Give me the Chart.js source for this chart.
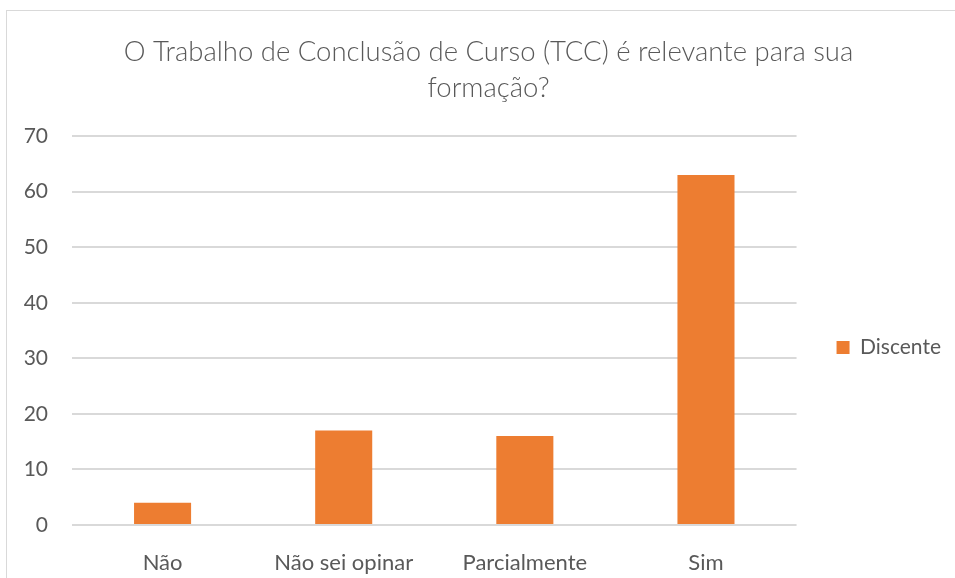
<!DOCTYPE html>
<html>
<head>
<meta charset="utf-8">
<script src="https://cdn.jsdelivr.net/npm/chart.js@4.4.0/dist/chart.umd.min.js"></script>
<style>
  html, body { margin: 0; padding: 0; background: #fff; }
  #wrap { position: relative; width: 955px; height: 578px; overflow: hidden; }
  #frame { position: absolute; left: 6px; top: 10px; width: 960px; height: 600px; border: 1px solid #d9d9d9; }
  #tccChart { position: absolute; left: 0; top: 0; }
</style>
</head>
<body>
<div id="wrap">
  <div id="frame"></div>
  <canvas id="tccChart" width="955" height="578"></canvas>
</div>
<script>
  const categories = ['Não', 'Não sei opinar', 'Parcialmente', 'Sim'];
  const discente = [4, 17, 16, 63];
  const yTicks = [0, 10, 20, 30, 40, 50, 60, 70];

  const textColor = '#595959';
  const fontFamily = 'Lato, "Open Sans", sans-serif';

  // nudge legend and title over to where Excel puts them
  const boxShift = {
    id: 'boxShift',
    afterLayout(chart) {
      const lg = chart.legend;
      lg.left += 32; lg.right += 32;
      lg.top += 17; lg.bottom += 17;
      const tb = chart.titleBlock;
      tb.left += 29; tb.right += 29;
    }
  };

  const ctx = document.getElementById('tccChart');
  new Chart(ctx, {
    type: 'bar',
    data: {
      labels: categories,
      datasets: [{
        label: 'Discente',
        data: discente,
        backgroundColor: '#ED7D31',
        barPercentage: 0.315,
        categoryPercentage: 1
      }]
    },
    options: {
      responsive: false,
      animation: false,
      layout: { padding: { right: 36 } },
      plugins: {
        title: {
          display: true,
          text: ['O Trabalho de Conclusão de Curso (TCC) é relevante para sua', 'formação?'],
          color: textColor,
          font: { family: fontFamily, size: 27.5, weight: 300, lineHeight: 1.31 },
          padding: { top: 34, bottom: 30 }
        },
        legend: {
          position: 'right',
          fullSize: false,
          labels: {
            color: textColor,
            font: { family: fontFamily, size: 21 },
            boxWidth: 13,
            boxHeight: 13,
            padding: 8
          }
        },
        tooltip: { enabled: false }
      },
      scales: {
        x: {
          grid: { display: false },
          border: { display: false },
          ticks: { color: textColor, font: { family: fontFamily, size: 22 }, padding: 17 },
          afterFit: (scale) => { scale.height = 53; }
        },
        y: {
          min: 0,
          max: 70,
          afterBuildTicks: (scale) => { scale.ticks = yTicks.map(v => ({ value: v })); },
          grid: { color: '#d9d9d9', lineWidth: 2, drawTicks: false },
          border: { display: false },
          ticks: { color: textColor, font: { family: fontFamily, size: 21 }, padding: 24 },
          afterFit: (scale) => { scale.width = 72; }
        }
      }
    },
    plugins: [boxShift]
  });
</script>
</body>
</html>
